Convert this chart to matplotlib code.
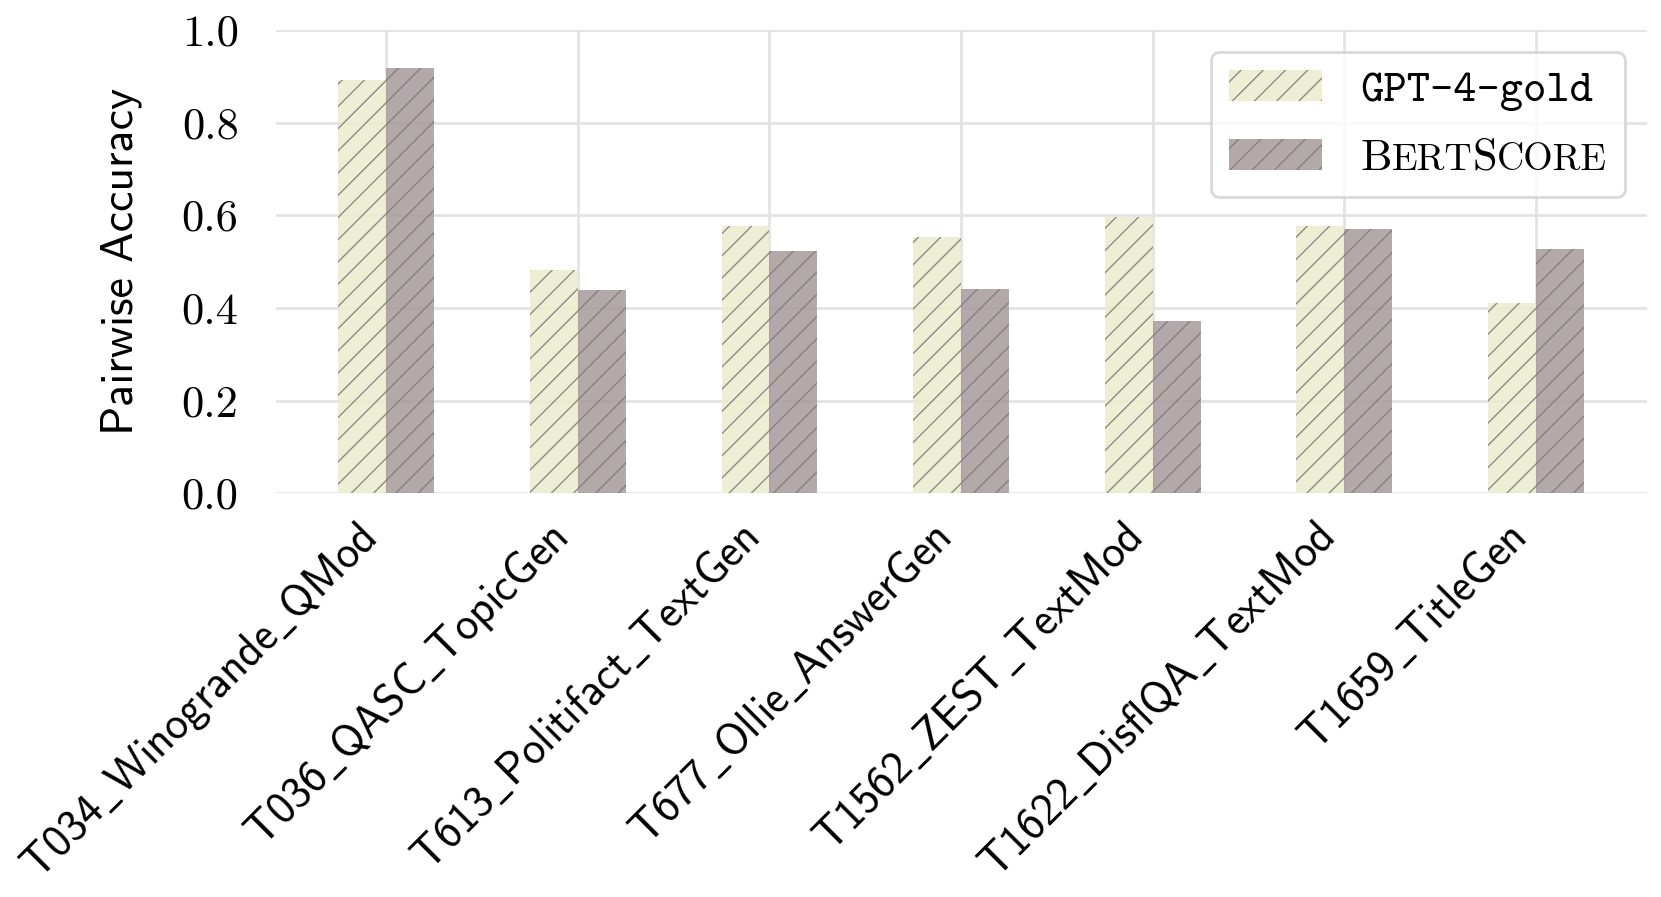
import matplotlib
matplotlib.use("Agg")
import matplotlib.pyplot as plt
import matplotlib.transforms as mtransforms
from matplotlib.offsetbox import TextArea, HPacker
import numpy as np

categories = ["T034_Winogrande_QMod", "T036_QASC_TopicGen", "T613_Politifact_TextGen",
              "T677_Ollie_AnswerGen", "T1562_ZEST_TextMod", "T1622_DisflQA_TextMod",
              "T1659_TitleGen"]
gpt4_gold = [0.893, 0.482, 0.578, 0.553, 0.596, 0.576, 0.410]
bertscore = [0.918, 0.438, 0.523, 0.441, 0.372, 0.571, 0.528]
yticks = [0.0, 0.2, 0.4, 0.6, 0.8, 1.0]

plt.rcParams['axes.unicode_minus'] = False
plt.rcParams['mathtext.fontset'] = 'cm'
plt.rcParams['hatch.linewidth'] = 0.5

DPI = 200
fig = plt.figure(figsize=(1661 / DPI, 897 / DPI), dpi=DPI)
ax = fig.add_axes([276 / 1661, 1 - 493.3 / 897, (1647 - 276) / 1661, (493.3 - 30) / 897])

x = np.arange(len(categories))
w = 0.25
c_gpt = '#ECECCD'
c_bert = '#A69A9A'
hatch_c = '#7c7c7c'
ax.bar(x - w / 2, gpt4_gold, width=w, color=c_gpt, alpha=0.85, hatch='///',
       edgecolor=hatch_c, linewidth=0, label='GPT-4-gold', zorder=2)
ax.bar(x + w / 2, bertscore, width=w, color=c_bert, alpha=0.85, hatch='///',
       edgecolor=hatch_c, linewidth=0, label='BertScore', zorder=2)

ax.set_xlim(-0.575, len(categories) - 1 + 0.58)
ax.set_ylim(0, 1.0)
ax.set_yticks(yticks)
ax.set_yticklabels([f"{v:.1f}" for v in yticks], fontfamily='cmr10', fontsize=16)


def sans(s):
    # plain text in cmss10, underscores drawn through mathtext
    return s.replace("_", r"$\_$")


ax.set_xticks(x)
ax.set_xticklabels([sans(c) for c in categories], fontfamily='cmss10', fontsize=16,
                   rotation=45, ha='right', va='baseline', rotation_mode='anchor')
ax.tick_params(axis='both', length=0)
ax.tick_params(axis='y', pad=13.5)
ax.tick_params(axis='x', pad=17)
off = mtransforms.ScaledTranslation(-8 / DPI, 0, fig.dpi_scale_trans)
for lab in ax.get_xticklabels():
    lab.set_transform(lab.get_transform() + off)

for s in ax.spines.values():
    s.set_visible(False)
ax.set_axisbelow(True)
ax.grid(True, color='#e3e3e3', linewidth=1.0)

ax.set_ylabel("Pairwise Accuracy", fontfamily='cmss10', fontsize=16.5)
ax.yaxis.set_label_coords(-0.0977, 0.5)

leg = ax.legend(loc='upper right', prop={'family': 'cmtt10', 'size': 16},
                handlelength=2.1, handletextpad=0.85, borderaxespad=0.5,
                labelspacing=0.62, fancybox=True, framealpha=0.8, edgecolor='#d0d0d0')
leg.get_frame().set_linewidth(1.0)

# Replace second label with small-caps style "BertScore"
fs = 16
sc = 13.6
parts = [("B", fs), ("ERT", sc), ("S", fs), ("CORE", sc)]
areas = [TextArea(t, textprops=dict(family='cmr10', size=s, color='black')) for t, s in parts]
sc_box = HPacker(children=areas, align='baseline', pad=0, sep=0)
sc_box.set_figure(fig)
try:
    col = leg._legend_handle_box.get_children()[0]
    item = col.get_children()[1]
    kids = item.get_children()
    kids[1] = sc_box
except Exception:
    pass

fig.savefig("out.png", dpi=DPI)
